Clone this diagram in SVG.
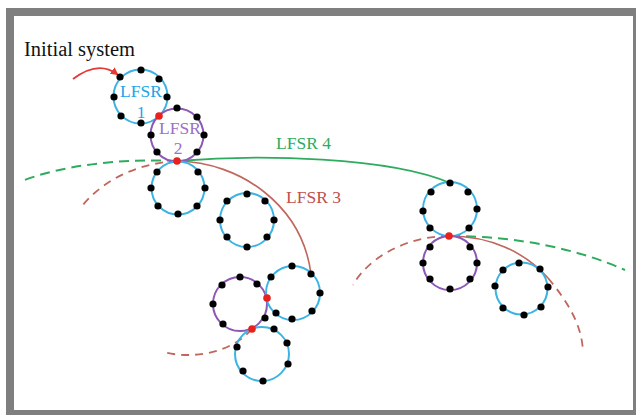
<svg xmlns="http://www.w3.org/2000/svg" width="636" height="415" viewBox="0 0 636 415">
<style>
.bg{fill:#ffffff}
.frame{fill:none;stroke:#7f7f7f;stroke-width:8}
.cb{fill:none;stroke:#3db3e3;stroke-width:2}
.cp{fill:none;stroke:#8c58b6;stroke-width:2}
.d{fill:#000000}
.r{fill:#e8211c}
.g{fill:none;stroke:#2eab5f;stroke-width:1.8}
.gd{fill:none;stroke:#2eab5f;stroke-width:2;stroke-dasharray:10 6}
.rc{fill:none;stroke:#c0665d;stroke-width:1.6}
.rd{fill:none;stroke:#c0665d;stroke-width:1.8;stroke-dasharray:8 6}
.t{font-family:"Liberation Serif","Times New Roman",serif}
</style>
<defs>
<marker id="ah" markerWidth="8" markerHeight="8" refX="6" refY="4" orient="auto" markerUnits="userSpaceOnUse">
<path d="M0,0 L8,4 L0,8 Z" fill="#e53935"/>
</marker>
</defs>
<rect class="bg" x="0" y="0" width="636" height="415"/>
<rect class="frame" x="10" y="12" width="627" height="402"/>

<g id="connectors">
<path d="M73,79 Q98,60 117,74" fill="none" stroke="#e53935" stroke-width="1.8" marker-end="url(#ah)"/>
<path class="gd" d="M177,161 C 120,158 60,166 22,181"/>
<path class="g" d="M177,161 C 260,154 390,157 450,183"/>
<path class="gd" d="M450,236 C 520,236 580,250 625,270"/>
<path class="rd" d="M177,161 C 140,163 105,178 82,206"/>
<path class="rc" d="M177,161 C 240,162 302,205 311,274"/>
<path class="rd" d="M252,329 C 232,352 195,360 163,352"/>
<path class="rd" d="M449,236 C 410,236 370,255 353,285"/>
<path class="rc" d="M449,236 C 490,236 525,252 548,278"/>
<path class="rd" d="M548,278 C 568,302 582,325 583,352"/>
</g>

<g id="initial-label">
<text class="t" x="24" y="56" font-size="20.5" fill="#111111">Initial system</text>
</g>

<g id="lfsr1">
<circle class="cb" cx="140.5" cy="96.5" r="27"/>
<circle class="d" cx="141" cy="70" r="3.6"/>
<circle class="d" cx="159" cy="79" r="3.6"/>
<circle class="d" cx="167" cy="97" r="3.6"/>
<circle class="d" cx="141" cy="123" r="3.6"/>
<circle class="d" cx="121" cy="116" r="3.6"/>
<circle class="d" cx="114" cy="97" r="3.6"/>
<circle class="d" cx="120" cy="77" r="3.6"/>
<text class="t" x="141" y="97" font-size="17.5" fill="#1ba5e8" text-anchor="middle">LFSR</text>
<text class="t" x="141" y="118" font-size="17.5" fill="#1ba5e8" text-anchor="middle">1</text>
</g>

<g id="lfsr2">
<circle class="cp" cx="177" cy="135" r="26.5"/>
<circle class="d" cx="177" cy="108" r="3.6"/>
<circle class="d" cx="197" cy="117" r="3.6"/>
<circle class="d" cx="204" cy="135" r="3.6"/>
<circle class="d" cx="197" cy="152" r="3.6"/>
<circle class="d" cx="157" cy="152" r="3.6"/>
<circle class="d" cx="151" cy="135" r="3.6"/>
<text class="t" x="180" y="134" font-size="17.5" fill="#9b70c8" text-anchor="middle">LFSR</text>
<text class="t" x="178" y="154" font-size="17.5" fill="#9b70c8" text-anchor="middle">2</text>
</g>

<g id="node-a">
<circle class="cb" cx="178" cy="188" r="26.5"/>
<circle class="d" cx="198" cy="172" r="3.6"/>
<circle class="d" cx="205" cy="188" r="3.6"/>
<circle class="d" cx="197" cy="206" r="3.6"/>
<circle class="d" cx="178" cy="214" r="3.6"/>
<circle class="d" cx="158" cy="206" r="3.6"/>
<circle class="d" cx="151" cy="188" r="3.6"/>
<circle class="d" cx="157" cy="172" r="3.6"/>
</g>

<g id="node-b">
<circle class="cb" cx="247" cy="220" r="27"/>
<circle class="d" cx="247" cy="194" r="3.6"/>
<circle class="d" cx="265" cy="201" r="3.6"/>
<circle class="d" cx="274" cy="220" r="3.6"/>
<circle class="d" cx="267" cy="237" r="3.6"/>
<circle class="d" cx="247" cy="247" r="3.6"/>
<circle class="d" cx="227" cy="237" r="3.6"/>
<circle class="d" cx="220" cy="220" r="3.6"/>
<circle class="d" cx="227" cy="201" r="3.6"/>
</g>

<g id="node-c">
<circle class="cp" cx="240" cy="304" r="27"/>
<circle class="d" cx="240" cy="277" r="3.6"/>
<circle class="d" cx="257" cy="284" r="3.6"/>
<circle class="d" cx="265" cy="318" r="3.6"/>
<circle class="d" cx="223" cy="324" r="3.6"/>
<circle class="d" cx="213" cy="304" r="3.6"/>
<circle class="d" cx="222" cy="285" r="3.6"/>
</g>

<g id="node-d">
<circle class="cb" cx="293" cy="293" r="27"/>
<circle class="d" cx="292" cy="266" r="3.6"/>
<circle class="d" cx="311" cy="274" r="3.6"/>
<circle class="d" cx="320" cy="293" r="3.6"/>
<circle class="d" cx="312" cy="311" r="3.6"/>
<circle class="d" cx="292" cy="319" r="3.6"/>
<circle class="d" cx="276" cy="313" r="3.6"/>
<circle class="d" cx="271" cy="277" r="3.6"/>
</g>

<g id="node-e">
<circle class="cb" cx="262" cy="354" r="27"/>
<circle class="d" cx="274" cy="329" r="3.6"/>
<circle class="d" cx="287" cy="343" r="3.6"/>
<circle class="d" cx="288" cy="364" r="3.6"/>
<circle class="d" cx="263" cy="381" r="3.6"/>
<circle class="d" cx="243" cy="371" r="3.6"/>
<circle class="d" cx="237" cy="347" r="3.6"/>
</g>

<g id="node-f">
<circle class="cb" cx="450" cy="209" r="27"/>
<circle class="d" cx="450" cy="183" r="3.6"/>
<circle class="d" cx="468" cy="192" r="3.6"/>
<circle class="d" cx="477" cy="209" r="3.6"/>
<circle class="d" cx="469" cy="228" r="3.6"/>
<circle class="d" cx="430" cy="228" r="3.6"/>
<circle class="d" cx="423" cy="211" r="3.6"/>
<circle class="d" cx="431" cy="192" r="3.6"/>
</g>

<g id="node-g">
<circle class="cp" cx="450" cy="263" r="27"/>
<circle class="d" cx="470" cy="247" r="3.6"/>
<circle class="d" cx="477" cy="263" r="3.6"/>
<circle class="d" cx="470" cy="279" r="3.6"/>
<circle class="d" cx="450" cy="289" r="3.6"/>
<circle class="d" cx="430" cy="279" r="3.6"/>
<circle class="d" cx="423" cy="263" r="3.6"/>
<circle class="d" cx="430" cy="247" r="3.6"/>
</g>

<g id="node-h">
<circle class="cb" cx="521.5" cy="288.5" r="26"/>
<circle class="d" cx="519" cy="263" r="3.6"/>
<circle class="d" cx="540" cy="269" r="3.6"/>
<circle class="d" cx="548" cy="287" r="3.6"/>
<circle class="d" cx="541" cy="307" r="3.6"/>
<circle class="d" cx="524" cy="315" r="3.6"/>
<circle class="d" cx="503" cy="308" r="3.6"/>
<circle class="d" cx="495" cy="286" r="3.6"/>
<circle class="d" cx="503" cy="270" r="3.6"/>
</g>

<g id="junctions">
<circle class="r" cx="159" cy="116" r="3.8"/>
<circle class="r" cx="177" cy="161" r="3.8"/>
<circle class="r" cx="267" cy="298" r="3.8"/>
<circle class="r" cx="252" cy="329" r="3.8"/>
<circle class="r" cx="449" cy="236" r="3.8"/>
</g>

<g id="curve-labels">
<text class="t" x="276" y="149" font-size="17.5" fill="#2eab5f">LFSR 4</text>
<text class="t" x="286" y="203" font-size="17.5" fill="#c0504d">LFSR 3</text>
</g>
</svg>
